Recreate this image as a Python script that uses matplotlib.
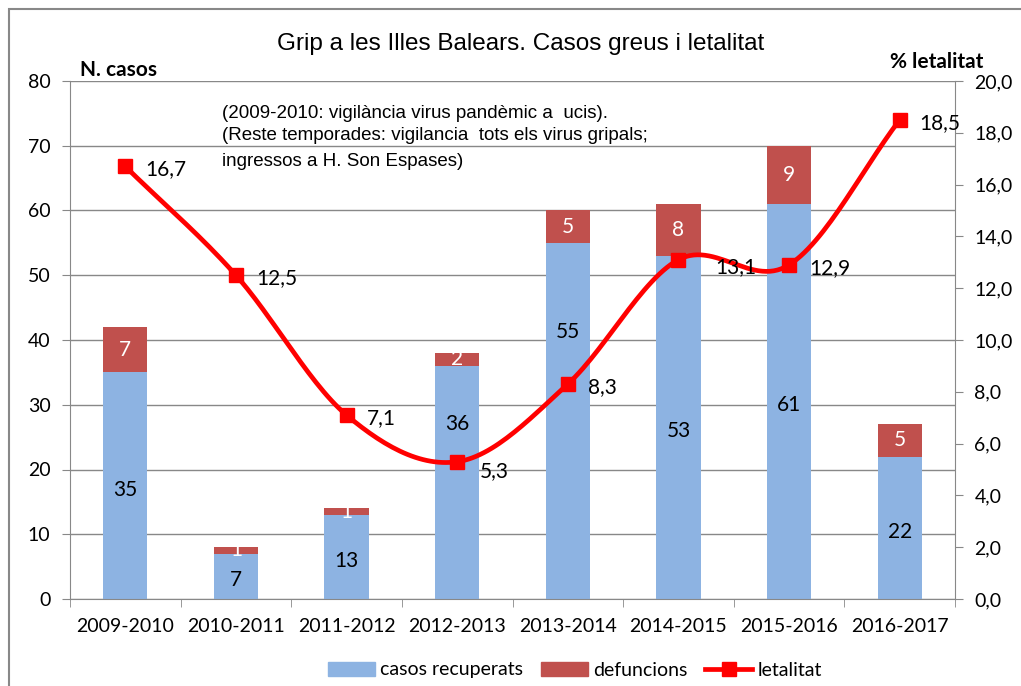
import numpy as np
import matplotlib
matplotlib.use("Agg")
import matplotlib.pyplot as plt
from matplotlib.patches import Rectangle
from matplotlib.lines import Line2D
from matplotlib.patches import Patch

plt.rcParams['font.family'] = ['Lato', 'DejaVu Sans']

temporades = ["2009-2010", "2010-2011", "2011-2012", "2012-2013",
              "2013-2014", "2014-2015", "2015-2016", "2016-2017"]
recuperats = [35, 7, 13, 36, 55, 53, 61, 22]
defuncions = [7, 1, 1, 2, 5, 8, 9, 5]
letalitat = [16.7, 12.5, 7.1, 5.3, 8.3, 13.1, 12.9, 18.5]

blau = "#8db3e2"
vermell_bar = "#c0504d"
vermell = "#ff0000"


def smooth(xs, ys, n=30):
    # corba suau tipus Excel (Catmull-Rom)
    xs = np.asarray(xs, float)
    ys = np.asarray(ys, float)
    px = np.concatenate([[2 * xs[0] - xs[1]], xs, [2 * xs[-1] - xs[-2]]])
    py = np.concatenate([[2 * ys[0] - ys[1]], ys, [2 * ys[-1] - ys[-2]]])
    outx, outy = [], []
    for i in range(1, len(px) - 2):
        t = np.linspace(0, 1, n)
        for p, out in ((px, outx), (py, outy)):
            p0, p1, p2, p3 = p[i - 1], p[i], p[i + 1], p[i + 2]
            c1 = p1 + (p2 - p0) / 6
            c2 = p2 - (p3 - p1) / 6
            out.extend((1 - t) ** 3 * p1 + 3 * (1 - t) ** 2 * t * c1
                       + 3 * (1 - t) * t ** 2 * c2 + t ** 3 * p2)
    return outx, outy


fig = plt.figure(figsize=(10.21, 6.86), dpi=100)
fig.patches.append(Rectangle((9 / 1021, -0.1), 1.2, (686 - 9) / 686 + 0.1,
                             transform=fig.transFigure, fill=False,
                             edgecolor="#888888", lw=1.5))

ax = fig.add_axes([70 / 1021, 87 / 686, 885 / 1021, 518 / 686])
ax2 = ax.twinx()

x = np.arange(len(temporades))
w = 0.4
ax.bar(x, recuperats, w, color=blau, zorder=2)
ax.bar(x, defuncions, w, bottom=recuperats, color=vermell_bar, zorder=2)

for i, (xi, r, d) in enumerate(zip(x, recuperats, defuncions)):
    # etiquetes mogudes per no tapar la línia (2012-2013, 2013-2014)
    ry = 0.75 * r if i in (3, 4) else r / 2 - 0.6
    ax.text(xi, ry, str(r), ha="center", va="center", fontsize=15, color="black", zorder=3)
    ax.text(xi, r + d / 2, str(d), ha="center", va="center", fontsize=15, color="white", zorder=3)

ax.set_ylim(0, 80)
ax.set_yticks(range(0, 81, 10))
ax.set_xlim(-0.5, len(temporades) - 0.5)
ax.set_xticks(x)
ax.set_xticklabels(temporades, fontsize=14)
ax.set_xticks(np.arange(-0.5, len(temporades)), minor=True)
ax.tick_params(axis="x", which="major", length=0, pad=14)
ax.tick_params(axis="x", which="minor", length=6, color="#888888")
ax.tick_params(axis="y", labelsize=14, length=6, color="#888888", pad=8)
ax.grid(axis="y", color="#888888", lw=1, zorder=0)
ax.set_axisbelow(True)
for s in ("top", "right"):
    ax.spines[s].set_visible(False)
for s in ("left", "bottom"):
    ax.spines[s].set_color("#888888")

sx, sy = smooth(x, letalitat)
ax2.plot(sx, sy, color=vermell, lw=3.4, zorder=4)
ax2.plot(x, letalitat, "s", color=vermell, ms=10, zorder=5)
for i, (xi, v) in enumerate(zip(x, letalitat)):
    # algunes etiquetes queden desplaçades com a l'original
    dx, dy = {5: (0.33, -0.3), 3: (0.2, -0.35)}.get(i, (0.18, -0.12))
    ax2.text(xi + dx, v + dy, f"{v:.1f}".replace(".", ","), ha="left", va="center",
             fontsize=15, color="black", zorder=6)
ax2.set_ylim(0, 20)
ax2.set_yticks(np.arange(0, 20.1, 2))
ax2.set_yticklabels([f"{v:.1f}".replace(".", ",") for v in np.arange(0, 20.1, 2)])
ax2.tick_params(axis="y", labelsize=14, length=6, color="#888888", pad=8)
for s in ("top", "left", "bottom"):
    ax2.spines[s].set_visible(False)
ax2.spines["right"].set_color("#888888")

fig.text(521 / 1021, 1 - 44 / 686, "Grip a les Illes Balears. Casos greus i letalitat",
         ha="center", va="center", fontsize=17.5, family="Liberation Sans")
fig.text(80 / 1021, 1 - 70 / 686, "N. casos", ha="left", va="center",
         fontsize=15, fontweight="bold")
fig.text(937 / 1021, 1 - 62 / 686, "% letalitat", ha="center", va="center",
         fontsize=15, fontweight="bold")
nota = ["(2009-2010: vigilància virus pandèmic a  ucis).",
        "(Reste temporades: vigilancia  tots els virus gripals;",
        "ingressos a H. Son Espases)"]
for linia, yy in zip(nota, [113, 136, 162]):
    fig.text(222 / 1021, 1 - yy / 686, linia, ha="left", va="center",
             fontsize=13.5, family="Liberation Sans")

handles = [Patch(color=blau, label="casos recuperats"),
           Patch(color=vermell_bar, label="defuncions"),
           Line2D([], [], color=vermell, lw=3.4, marker="s", ms=10, label="letalitat")]
fig.legend(handles=handles, loc="center", bbox_to_anchor=(575 / 1021, 1 - 670 / 686),
           ncol=3, frameon=False, fontsize=14, handlelength=2.4, columnspacing=0.9,
           handletextpad=0.3)

fig.savefig("out.png", dpi=100)
